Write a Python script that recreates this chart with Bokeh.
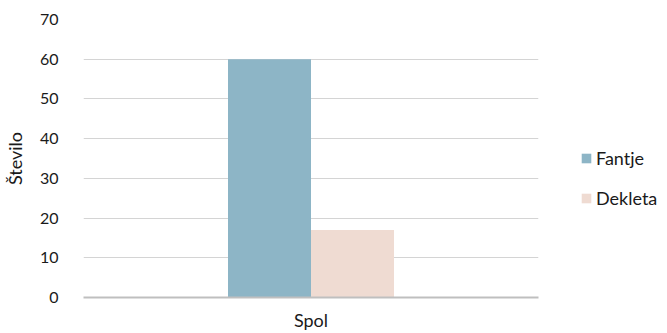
from bokeh.plotting import figure
from bokeh.models import FactorRange, Legend, LegendItem, Range1d
from bokeh.transform import dodge
from bokeh.embed import file_html
from bokeh.resources import INLINE

categories = ["Spol"]
series_names = ["Fantje", "Dekleta"]
fantje = [60]
dekleta = [17]
y_ticks = [0, 10, 20, 30, 40, 50, 60, 70]

FONT = "Lato"
TXT = "#1a1a1a"
p = figure(frame_width=455, frame_height=278, output_backend="svg", toolbar_location=None,
           x_range=FactorRange(*categories, range_padding=0), y_range=Range1d(0, 70),
           min_border_left=83, min_border_right=121, min_border_top=19, min_border_bottom=36)
p.outline_line_color = None
p.background_fill_color = "white"

data = dict(cat=categories, fantje=fantje, dekleta=dekleta)
bw = 0.1824
r1 = p.vbar(x=dodge("cat", -bw / 2, range=p.x_range), top="fantje", width=bw, source=data,
            fill_color="#8db5c6", line_color=None)
r2 = p.vbar(x=dodge("cat", bw / 2, range=p.x_range), top="dekleta", width=bw, source=data,
            fill_color="#efdbd2", line_color=None)

p.yaxis.ticker = y_ticks
p.yaxis.axis_line_color = None
p.yaxis.major_tick_line_color = None
p.yaxis.minor_tick_line_color = None
p.yaxis.major_label_text_font = FONT
p.yaxis.major_label_text_font_size = "16px"
p.yaxis.major_label_text_color = TXT
p.yaxis.major_label_standoff = 19
p.yaxis.axis_label = "Število"
p.yaxis.axis_label_text_font = FONT
p.yaxis.axis_label_text_font_style = "normal"
p.yaxis.axis_label_text_font_size = "18px"
p.yaxis.axis_label_text_color = TXT
p.yaxis.axis_label_standoff = 11

p.xaxis.axis_line_color = "#bfbfbf"
p.xaxis.axis_line_width = 2
p.xaxis.major_tick_line_color = None
p.xaxis.minor_tick_line_color = None
p.xaxis.major_label_text_font = FONT
p.xaxis.major_label_text_font_size = "18px"
p.xaxis.major_label_text_color = TXT
p.xaxis.major_label_standoff = 5

p.xgrid.grid_line_color = None
p.ygrid.grid_line_color = "#d4d4d4"
p.ygrid.grid_line_width = 1

legend = Legend(items=[LegendItem(label=series_names[0], renderers=[r1]),
                       LegendItem(label=series_names[1], renderers=[r2])],
                border_line_color=None, background_fill_alpha=0,
                label_text_font=FONT, label_text_font_size="18px", label_text_color=TXT,
                glyph_width=12, glyph_height=12, spacing=18, label_standoff=4,
                padding=0, margin=0, location=(42, 88))
p.add_layout(legend, "right")

open("out.html", "w").write(file_html(p, INLINE))
